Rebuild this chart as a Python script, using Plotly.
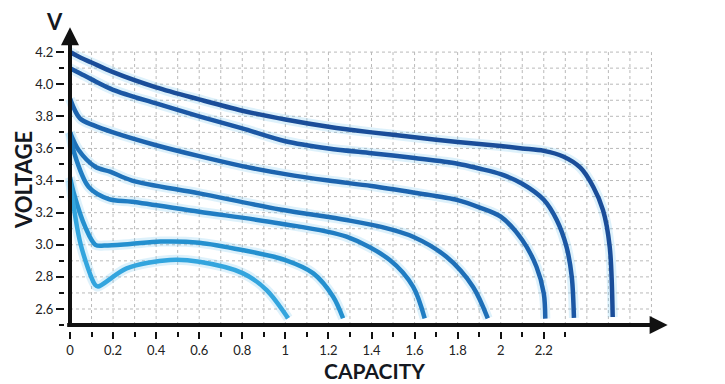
import plotly.graph_objects as go
import numpy as np

# ---- data ----
cap_a = [0, 0.05, 0.1, 0.2, 0.4, 0.6, 0.8, 1.0, 1.2, 1.4, 1.6, 1.8, 2.0, 2.1, 2.2, 2.29, 2.37, 2.43, 2.475, 2.506, 2.52]
volt_a = [4.20, 4.165, 4.135, 4.075, 3.98, 3.905, 3.835, 3.78, 3.735, 3.70, 3.67, 3.64, 3.615, 3.60, 3.585, 3.55, 3.48, 3.36, 3.216, 2.99, 2.55]

cap_b = [0, 0.05, 0.1, 0.2, 0.4, 0.6, 0.8, 1.0, 1.2, 1.4, 1.6, 1.8, 1.9, 2.0, 2.1, 2.2, 2.26, 2.305, 2.33, 2.34]
volt_b = [4.10, 4.065, 4.03, 3.965, 3.88, 3.80, 3.725, 3.645, 3.60, 3.57, 3.54, 3.505, 3.475, 3.44, 3.38, 3.28, 3.154, 2.99, 2.80, 2.545]

cap_c = [0, 0.046, 0.108, 0.2, 0.4, 0.6, 0.8, 1.0, 1.2, 1.4, 1.6, 1.8, 1.9, 2.0, 2.1, 2.166, 2.2, 2.207]
volt_c = [3.91, 3.787, 3.745, 3.70, 3.62, 3.552, 3.49, 3.44, 3.40, 3.366, 3.324, 3.278, 3.233, 3.175, 3.03, 2.863, 2.697, 2.54]

cap_d = [0, 0.04, 0.117, 0.186, 0.288, 0.6, 0.975, 1.284, 1.45, 1.593, 1.748, 1.871, 1.94]
volt_d = [3.70, 3.59, 3.486, 3.455, 3.40, 3.32, 3.22, 3.154, 3.11, 3.05, 2.925, 2.739, 2.542]

cap_e = [0, 0.02, 0.087, 0.18, 0.288, 0.6, 0.975, 1.284, 1.485, 1.593, 1.647]
volt_e = [3.70, 3.57, 3.36, 3.285, 3.268, 3.206, 3.133, 3.05, 2.905, 2.739, 2.542]

cap_f = [0, 0.018, 0.071, 0.118, 0.16, 0.28, 0.42, 0.6, 0.8, 1.0, 1.13, 1.222, 1.268]
volt_f = [3.42, 3.32, 3.11, 3.0, 2.995, 3.005, 3.02, 3.013, 2.967, 2.905, 2.822, 2.676, 2.542]

cap_g = [0, 0.05, 0.117, 0.13, 0.263, 0.464, 0.60, 0.804, 0.913, 1.013]
volt_g = [3.40, 3.0, 2.75, 2.74, 2.853, 2.905, 2.894, 2.822, 2.718, 2.542]

x_tick_vals = [0, 0.2, 0.4, 0.6, 0.8, 1.0, 1.2, 1.4, 1.6, 1.8, 2.0, 2.2]
x_tick_text = ["0", "0.2", "0.4", "0.6", "0.8", "1", "1.2", "1.4", "1.6", "1.8", "2", "2.2"]
x_minor_vals = [0.1, 0.3, 0.5, 0.7, 0.9, 1.1, 1.3, 1.5, 1.7, 1.9, 2.1, 2.3]
y_tick_vals = [2.6, 2.8, 3.0, 3.2, 3.4, 3.6, 3.8, 4.0, 4.2]
y_tick_text = ["2.6", "2.8", "3.0", "3.2", "3.4", "3.6", "3.8", "4.0", "4.2"]
y_minor_vals = [2.5, 2.7, 2.9, 3.1, 3.3, 3.5, 3.7, 3.9, 4.1]

series = [
    (cap_a, volt_a, "#1a4d99"),
    (cap_b, volt_b, "#1b57a4"),
    (cap_c, volt_c, "#1c63ae"),
    (cap_d, volt_d, "#1e70b8"),
    (cap_e, volt_e, "#207dc3"),
    (cap_f, volt_f, "#2490cf"),
    (cap_g, volt_g, "#33a5de"),
]

fig = go.Figure()

# grid (dotted)
grid_x = np.round(np.arange(0.1, 2.71, 0.1), 2)
grid_y = np.round(np.arange(2.6, 4.21, 0.1), 2)
shapes = []
for gx in grid_x:
    shapes.append(dict(type="line", xref="x", yref="y", x0=gx, x1=gx, y0=2.5, y1=4.2,
                       line=dict(color="#b9b9b9", width=1, dash="dot"), layer="below"))
for gy in grid_y:
    shapes.append(dict(type="line", xref="x", yref="y", x0=0, x1=2.7, y0=gy, y1=gy,
                       line=dict(color="#b9b9b9", width=1, dash="dot"), layer="below"))

for cx, vy, col in series:
    fig.add_trace(go.Scatter(x=cx, y=vy, mode="lines",
                             line=dict(color="rgba(120,200,240,0.25)", width=10, shape="spline", smoothing=0.9),
                             hoverinfo="skip", showlegend=False))
for cx, vy, col in series:
    fig.add_trace(go.Scatter(x=cx, y=vy, mode="lines",
                             line=dict(color=col, width=4.5, shape="spline", smoothing=0.9),
                             showlegend=False))

# page has an 8px body margin: figure drawn at (8, 8)
OFF = 8
W, H = 725 - OFF, 384 - OFF
ml, mr, mt, mb = 57, 52, 20, 53
pw, ph = W - ml - mr, H - mt - mb

def px(xs):
    return (xs - OFF - ml) / pw

def py(ys):
    return (H - mb - (ys - OFF)) / ph

annotations = [
    dict(x=2.775, y=2.5, ax=-0.02, ay=2.5, xref="x", yref="y", axref="x", ayref="y",
         showarrow=True, arrowhead=2, arrowsize=0.9, arrowwidth=4, arrowcolor="#111", text=""),
    dict(x=0, y=4.355, ax=0, ay=2.49, xref="x", yref="y", axref="x", ayref="y",
         showarrow=True, arrowhead=2, arrowsize=0.9, arrowwidth=4, arrowcolor="#111", text=""),
    dict(text="<b>V</b>", x=px(54), y=py(21), xref="paper", yref="paper", showarrow=False,
         xanchor="center", yanchor="middle",
         font=dict(family="Lato", size=22, color="#141821")),
    dict(text="<b>VOLTAGE</b>", x=px(23), y=py(180), xref="paper", yref="paper", showarrow=False,
         textangle=-90, xanchor="center", yanchor="middle",
         font=dict(family="Lato", size=22, color="#141821")),
    dict(text="<b>CAPACITY</b>", x=px(375), y=py(370), xref="paper", yref="paper", showarrow=False,
         xanchor="center", yanchor="middle",
         font=dict(family="Lato", size=21, color="#141821")),
]

fig.update_layout(
    width=W, height=H,
    margin=dict(l=ml, r=mr, t=mt, b=mb, autoexpand=False),
    paper_bgcolor="white", plot_bgcolor="white",
    shapes=shapes, annotations=annotations,
    xaxis=dict(range=[-0.0232, 2.8], showgrid=False, zeroline=False, showline=False, automargin=False,
               tickvals=x_tick_vals, ticktext=x_tick_text, ticks="outside", ticklen=7,
               tickwidth=2, tickcolor="#111",
               minor=dict(tickvals=x_minor_vals, ticks="outside", ticklen=5, tickwidth=2,
                          tickcolor="#111", showgrid=False),
               tickfont=dict(family="Lato", size=13, color="#222")),
    yaxis=dict(range=[2.463, 4.35], showgrid=False, zeroline=False, showline=False, automargin=False,
               tickvals=y_tick_vals, ticktext=y_tick_text, ticks="outside", ticklen=8,
               tickwidth=2, tickcolor="#111",
               minor=dict(tickvals=y_minor_vals, ticks="outside", ticklen=5, tickwidth=2,
                          tickcolor="#111", showgrid=False),
               tickfont=dict(family="Lato", size=13, color="#222")),
)

fig.write_html("out.html")
